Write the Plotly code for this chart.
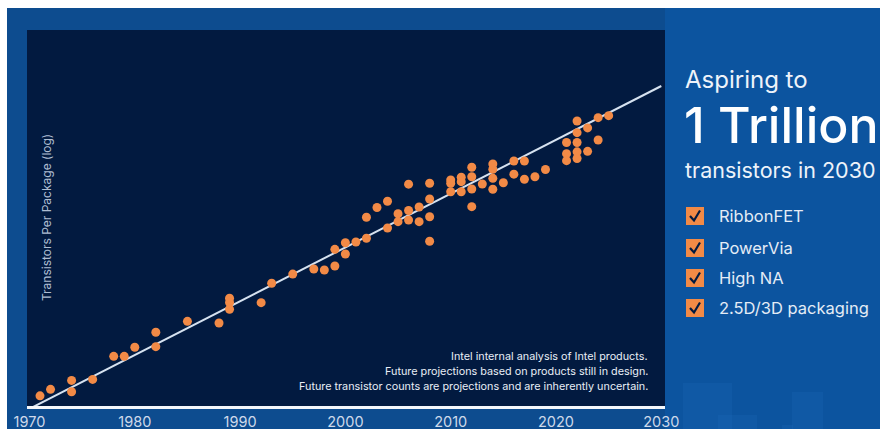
import plotly.graph_objects as go

# Intel product transistor counts per package (log scale), by year
years = [
    1971, 1972, 1974, 1974, 1976, 1978, 1979, 1980, 1982, 1982,
    1985, 1988, 1989, 1989, 1989, 1992, 1993, 1995, 1997, 1998,
    1999, 1999, 2000, 2000, 2001, 2002, 2002, 2003, 2004, 2004,
    2005, 2005, 2006, 2006, 2006, 2007, 2007, 2008, 2008, 2008,
    2008, 2010, 2010, 2010, 2011, 2011, 2011, 2012, 2012, 2012,
    2012, 2013, 2014, 2014, 2014, 2014, 2015, 2016, 2016, 2017,
    2017, 2018, 2019, 2021, 2021, 2021, 2022, 2022, 2022, 2022,
    2022, 2023, 2023, 2024, 2024, 2025,
]
transistors = [
    2.3e3, 3.5e3, 6.2e3, 3.0e3, 6.6e3, 2.9e4, 2.9e4, 5.2e4, 1.36e5, 5.4e4,
    2.75e5, 2.47e5, 1.21e6, 9.2e5, 5.95e5, 9.1e5, 3.16e6, 5.7e6, 7.9e6, 7.4e6,
    9.6e6, 2.8e7, 2.07e7, 4.28e7, 4.48e7, 5.68e7, 2.19e8, 4.1e8, 6.14e8, 1.1e8,
    1.65e8, 2.75e8, 1.83e9, 3.38e8, 1.84e8, 4.23e8, 1.65e8, 1.94e9, 7.08e8, 2.27e8,
    4.71e7, 1.94e9, 2.39e9, 1.13e9, 2.85e9, 2.15e9, 1.13e9, 5.41e9, 2.96e9, 1.34e9,
    4.32e8, 1.85e9, 6.69e9, 4.76e9, 2.67e9, 1.32e9, 2.01e9, 8.11e9, 3.48e9, 8.11e9,
    2.51e9, 2.96e9, 4.7e9, 2.66e10, 1.3e10, 8.27e9, 1.06e11, 4.99e10, 2.66e10, 1.46e10,
    9.5e9, 6.79e10, 1.51e10, 1.31e11, 3.12e10, 1.49e11,
]

# Trend line: doubling every two years
trend_years = [1970, 2030]
trend_counts = [1e3, 1e12]

x_ticks = [1970, 1980, 1990, 2000, 2010, 2020, 2030]

notes = [
    "Intel internal analysis of Intel products.",
    "Future projections based on products still in design.",
    "Future transistor counts are projections and are inherently uncertain.",
]
features = ["RibbonFET", "PowerVia", "High NA", "2.5D/3D packaging"]

W, H = 880, 429
L, R, T, B = 27, 665, 30, 406  # plot area in pixels


def px(x):
    return (x - L) / (R - L)


def py(y):
    return (B - y) / (B - T)


ORANGE = "#f28a46"
NAVY = "#021a40"
BLUE = "#0d4c8f"
FONT = "Inter, Lato, sans-serif"

fig = go.Figure()
fig.add_trace(go.Scatter(
    x=trend_years, y=trend_counts, mode="lines",
    line=dict(color="#d6e2f0", width=2), hoverinfo="skip", showlegend=False,
))
fig.add_trace(go.Scatter(
    x=years, y=transistors, mode="markers",
    marker=dict(color=ORANGE, size=9, line=dict(width=0)),
    showlegend=False, cliponaxis=False,
))

shapes = []
# brighter blue side panel behind the headline
shapes.append(dict(type="rect", xref="paper", yref="paper", layer="below",
                   x0=px(665), x1=px(W), y0=py(H), y1=py(8),
                   fillcolor="rgba(10,95,180,0.45)", line=dict(width=0)))
# white frame strips at top and left
shapes.append(dict(type="rect", xref="paper", yref="paper", layer="above",
                   x0=px(0), x1=px(W), y0=py(0), y1=py(8),
                   fillcolor="white", line=dict(width=0)))
shapes.append(dict(type="rect", xref="paper", yref="paper", layer="above",
                   x0=px(0), x1=px(7), y0=py(0), y1=py(H),
                   fillcolor="white", line=dict(width=0)))
# faint decorative blocks, lower right
for x0, x1, y0 in [(683, 732, 383), (718, 757, 415), (792, 823, 392), (782, 793, 425)]:
    shapes.append(dict(type="rect", xref="paper", yref="paper", layer="below",
                       x0=px(x0), x1=px(x1), y0=py(H), y1=py(y0),
                       fillcolor="rgba(40,120,200,0.15)", line=dict(width=0)))

annotations = []
annotations.append(dict(
    text="Transistors Per Package (log)", xref="paper", yref="paper",
    x=px(46), y=py(218), textangle=-90, showarrow=False,
    xanchor="center", yanchor="middle",
    font=dict(family=FONT, size=12, color="#aebdd2"),
))
for i, line in enumerate(notes):
    annotations.append(dict(
        text=line, xref="paper", yref="paper", x=px(650), y=py(356 + 15 * i),
        showarrow=False, xanchor="right", yanchor="middle",
        font=dict(family=FONT, size=10.8, color="#e8eef6"),
    ))

annotations.append(dict(
    text="Aspiring to", xref="paper", yref="paper", x=px(683), y=py(79),
    showarrow=False, xanchor="left", yanchor="middle",
    font=dict(family=FONT, size=24, color="#eef3fa"),
))
annotations.append(dict(
    text="1 Trillion", xref="paper", yref="paper", x=px(682), y=py(125),
    showarrow=False, xanchor="left", yanchor="middle",
    font=dict(family=FONT, size=50, color="#ffffff", weight=500),
))
annotations.append(dict(
    text="transistors in 2030", xref="paper", yref="paper", x=px(683), y=py(170),
    showarrow=False, xanchor="left", yanchor="middle",
    font=dict(family=FONT, size=21.5, color="#eef3fa"),
))

box_y = [216, 248, 278, 308]
for label, cy in zip(features, box_y):
    shapes.append(dict(type="rect", xref="paper", yref="paper", layer="above",
                       x0=px(686), x1=px(704), y0=py(cy + 9), y1=py(cy - 9),
                       fillcolor=ORANGE, line=dict(width=0)))
    path = "M {} {} L {} {} L {} {}".format(
        px(690), py(cy), px(694), py(cy + 4.5), px(700), py(cy - 5.5))
    shapes.append(dict(type="path", xref="paper", yref="paper", layer="above",
                       path=path, line=dict(color=NAVY, width=2.2)))
    annotations.append(dict(
        text=label, xref="paper", yref="paper", x=px(717), y=py(cy),
        showarrow=False, xanchor="left", yanchor="middle",
        font=dict(family=FONT, size=16.5, color="#e4ecf6"),
    ))

fig.update_layout(
    width=W, height=H, autosize=False,
    margin=dict(l=L, r=W - R, t=T, b=H - B, pad=0, autoexpand=False),
    paper_bgcolor=BLUE, plot_bgcolor=NAVY,
    shapes=shapes, annotations=annotations,
    xaxis=dict(
        range=[1969.766, 2030.35], tickvals=x_ticks, ticks="",
        showgrid=False, zeroline=False, showline=True, automargin=False,
        linecolor="#f4f7fb", linewidth=3,
        tickfont=dict(family=FONT, size=14.5, color="#cdd9ea"),
        ticklabelstandoff=1, fixedrange=True,
    ),
    yaxis=dict(
        type="log", range=[3.0788, 13.561], showticklabels=False, ticks="",
        showgrid=False, zeroline=False, showline=False, fixedrange=True,
        automargin=False,
    ),
)

fig.write_html("out.html")
